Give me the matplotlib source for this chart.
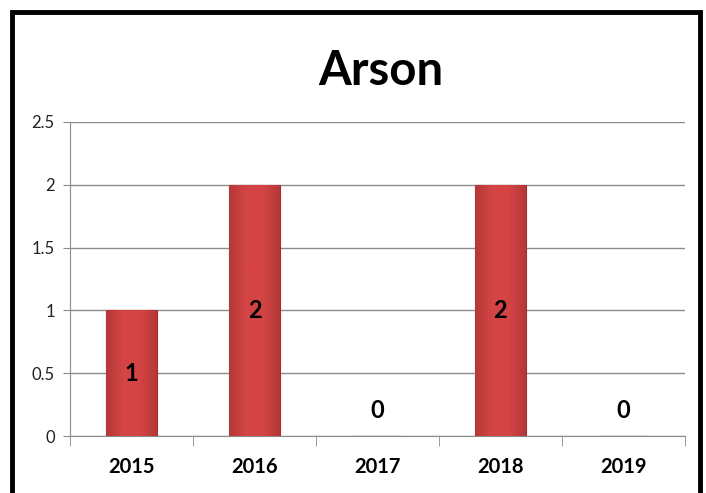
import matplotlib.pyplot as plt
import numpy as np
from matplotlib.patches import Rectangle
from matplotlib.colors import LinearSegmentedColormap

years = ["2015", "2016", "2017", "2018", "2019"]
counts = [1, 2, 0, 2, 0]
yticks = [0, 0.5, 1, 1.5, 2, 2.5]
ytick_labels = ["0", "0.5", "1", "1.5", "2", "2.5"]

plt.rcParams['font.family'] = ['Lato', 'DejaVu Sans']

fig = plt.figure(figsize=(7.06, 4.93), dpi=100)
ax = fig.add_axes([0.0992, 0.1156, 0.871, 0.637])

x = np.arange(len(years))
bars = ax.bar(x, counts, width=0.41, color="#c94242", edgecolor="#a03030", linewidth=0.8, zorder=2)

# soft shading inside each bar
cmap = LinearSegmentedColormap.from_list("redbar", ["#b43838", "#d44545", "#d44444", "#b43838"])
grad = np.linspace(0, 1, 100).reshape(1, -1)
for b in bars:
    if b.get_height() <= 0:
        continue
    im = ax.imshow(grad, cmap=cmap, aspect="auto", zorder=3,
                   extent=[b.get_x(), b.get_x() + b.get_width(), 0, b.get_height()])
    im.set_clip_path(b)

ax.set_xlim(-0.5, len(years) - 0.5)
ax.set_ylim(0, 2.5)
ax.set_yticks(yticks)
ax.set_yticklabels(ytick_labels, fontsize=12, color="#222222")
ax.yaxis.grid(True, color="#8c8c8c", linewidth=1.0, zorder=0)
ax.set_axisbelow(True)

ax.set_xticks(x)
ax.set_xticklabels(years, fontsize=14.5, fontweight="bold")
ax.set_xticks(np.arange(len(years) + 1) - 0.5, minor=True)
ax.tick_params(axis="x", which="major", length=0, pad=15)
ax.tick_params(axis="x", which="minor", length=7, color="#8c8c8c")
ax.tick_params(axis="y", length=5, color="#8c8c8c", pad=6)

for s in ["top", "right"]:
    ax.spines[s].set_visible(False)
for s in ["left", "bottom"]:
    ax.spines[s].set_color("#8c8c8c")

for xi, c in zip(x, counts):
    yy = c / 2 if c > 0 else 0.2
    ax.text(xi, yy, str(c), ha="center", va="center", fontsize=17, fontweight="bold", zorder=5)

fig.text(0.54, 0.856, "Arson", ha="center", va="center", fontsize=34, fontweight="bold")

# outer frame, cut off at the bottom
fig.patches.append(Rectangle((12 / 706, -0.05), 688 / 706, 1.0 - 12 / 493 + 0.05,
                             transform=fig.transFigure, fill=False, edgecolor="black",
                             linewidth=3.5))

fig.savefig("out.png", dpi=100)
